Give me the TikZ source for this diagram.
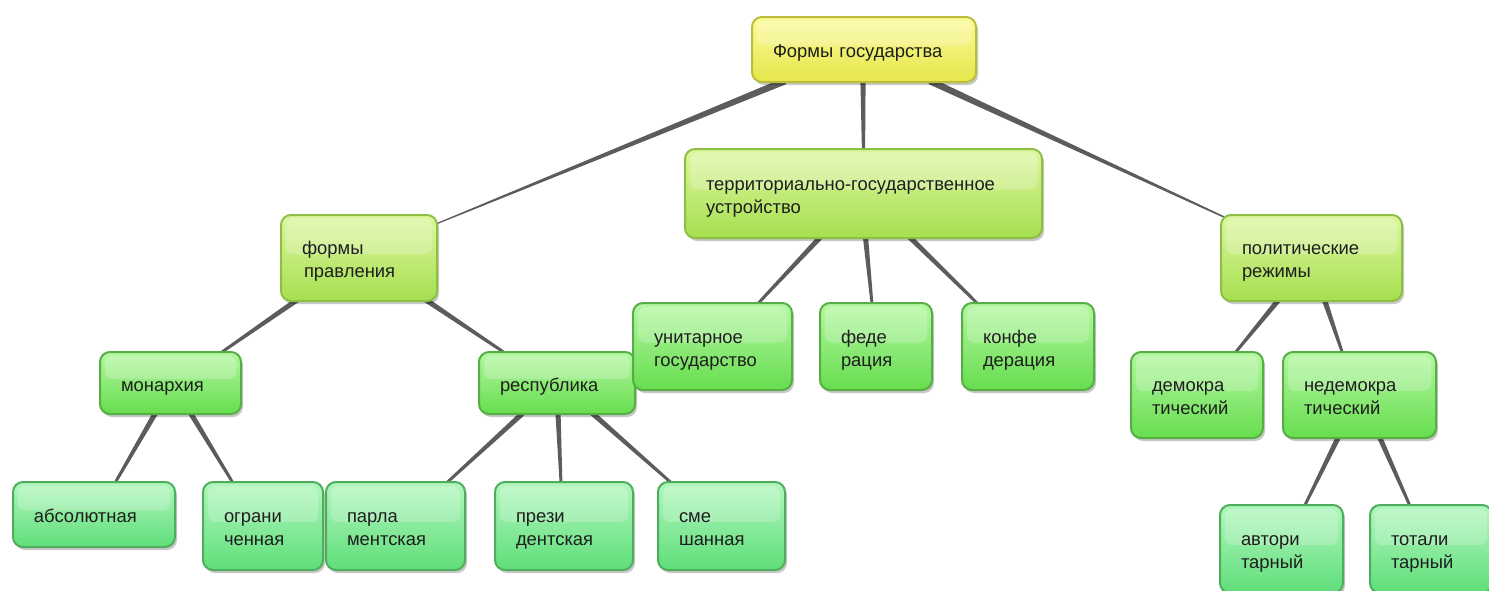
\documentclass[tikz,border=0pt]{standalone}
\usepackage{fontspec}
\setmainfont{Liberation Sans}
\usetikzlibrary{calc,shadows,backgrounds}
\definecolor{rootTop}{HTML}{FBFB9C}
\definecolor{rootBot}{HTML}{E6E64A}
\definecolor{rootLine}{HTML}{BDBD3C}
\definecolor{limeTop}{HTML}{DDF7A2}
\definecolor{limeBot}{HTML}{A6DF4E}
\definecolor{limeLine}{HTML}{8DBF45}
\definecolor{grTop}{HTML}{B4F8A2}
\definecolor{grBot}{HTML}{66DD4E}
\definecolor{grLine}{HTML}{56AE45}
\definecolor{mtTop}{HTML}{B2F7BE}
\definecolor{mtBot}{HTML}{5FDE7A}
\definecolor{mtLine}{HTML}{4FAE5E}
\definecolor{connCol}{HTML}{5C5C5C}
\definecolor{txtCol}{HTML}{1E1E1E}
\newcommand\bt{\rule{0pt}{22pt}}
\newcommand\et{\rule[-6pt]{0pt}{6pt}}
\newcommand\tconn[4]{%
  \coordinate (cs) at #1;
  \coordinate (ce) at #2;
  \fill[connCol] ($(cs)!#3!90:(ce)$) -- ($(ce)!#4!-90:(cs)$) -- ($(ce)!#4!90:(cs)$) -- ($(cs)!#3!-90:(ce)$) -- cycle;}
\begin{document}
\begin{tikzpicture}[x=1pt,y=-1pt,
  box/.style={rounded corners=10pt, line width=2pt, inner xsep=21pt, inner ysep=0pt,
    align=left, font=\fontsize{18.4}{23}\selectfont, text=txtCol,
    drop shadow={shadow xshift=2pt,shadow yshift=-3pt,opacity=0.22,fill=black},
    path picture={\fill[white,opacity=0.22,rounded corners=7pt]
      ([shift={(5pt,-4pt)}]path picture bounding box.north west) rectangle
      ([shift={(-5pt,4pt)}]path picture bounding box.east);}},
  rootbox/.style={box, draw=rootLine, top color=rootTop, bottom color=rootBot},
  limebox/.style={box, draw=limeLine, top color=limeTop, bottom color=limeBot},
  grbox/.style={box, draw=grLine, top color=grTop, bottom color=grBot},
  mtbox/.style={box, draw=mtLine, top color=mtTop, bottom color=mtBot}]
\useasboundingbox (0,0) rectangle (1489,590);
% level 0
\node[rootbox, text width=182pt, minimum height=65pt] (root) at (864,49.5) {\bt Формы государства\et};
% level 1
\node[limebox, text width=114pt, minimum height=86pt] (fp) at (359,258) {\bt формы\\\hspace{2pt}правления\et};
\node[limebox, text width=315pt, minimum height=89pt] (ter) at (863.5,193.5) {\bt территориально-государственное\\устройство\et};
\node[limebox, text width=139pt, minimum height=86pt] (pol) at (1311.5,258) {\bt политические\\режимы\et};
% level 2
\node[grbox, text width=99pt, minimum height=62pt] (mon) at (170.5,383) {\bt монархия\et};
\node[grbox, text width=114pt, minimum height=62pt] (rep) at (557,383) {\bt республика\et};
\node[grbox, text width=117pt, minimum height=87pt] (uni) at (712.5,346.5) {\bt унитарное\\государство\et};
\node[grbox, text width=70pt, minimum height=87pt] (fed) at (876,346.5) {\bt феде\\рация\et};
\node[grbox, text width=90pt, minimum height=87pt] (conf) at (1028,346.5) {\bt конфе\\дерация\et};
\node[grbox, text width=90pt, minimum height=86pt] (dem) at (1197,395) {\bt демокра\\тический\et};
\node[grbox, text width=111pt, minimum height=86pt] (nondem) at (1359.5,395) {\bt недемокра\\тический\et};
% level 3
\node[mtbox, text width=120pt, minimum height=65pt] (abs) at (94,514.5) {\bt абсолютная\et};
\node[mtbox, text width=78pt, minimum height=88pt] (ogr) at (263,526) {\bt ограни\\ченная\et};
\node[mtbox, text width=97pt, minimum height=88pt] (parl) at (395.5,526) {\bt парла\\ментская\et};
\node[mtbox, text width=96pt, minimum height=88pt] (prez) at (564,526) {\bt прези\\дентская\et};
\node[mtbox, text width=85pt, minimum height=88pt] (sme) at (721.5,526) {\bt сме\\шанная\et};
\node[mtbox, text width=81pt, minimum height=88pt] (avt) at (1281.5,549) {\bt автори\\тарный\et};
\node[mtbox, text width=80pt, minimum height=88pt] (tot) at (1431,549) {\bt тотали\\тарный\et};
% connectors
\begin{scope}[on background layer]
\tconn{([xshift=-79pt,yshift=2pt]root.south)}{([xshift=-2pt,yshift=-10pt]fp.north east)}{3.4pt}{0.6pt}
\tconn{([xshift=-1pt,yshift=2pt]root.south)}{([yshift=-2pt]ter.north)}{2.6pt}{1.6pt}
\tconn{([xshift=66pt,yshift=2pt]root.south)}{([xshift=4pt,yshift=-3pt]pol.north west)}{3.4pt}{0.8pt}
\tconn{([xshift=-62pt,yshift=2pt]fp.south)}{([xshift=50pt,yshift=-2pt]mon.north)}{2.6pt}{1.4pt}
\tconn{([xshift=67pt,yshift=2pt]fp.south)}{([xshift=-52pt,yshift=-2pt]rep.north)}{2.6pt}{1.4pt}
\tconn{([xshift=-15pt,yshift=2pt]mon.south)}{([xshift=21pt,yshift=-2pt]abs.north)}{2.6pt}{1.4pt}
\tconn{([xshift=20pt,yshift=2pt]mon.south)}{([xshift=-30pt,yshift=-2pt]ogr.north)}{2.6pt}{1.4pt}
\tconn{([xshift=-34pt,yshift=2pt]rep.south)}{([xshift=51pt,yshift=-2pt]parl.north)}{2.6pt}{1.4pt}
\tconn{([xshift=1pt,yshift=2pt]rep.south)}{([xshift=-3pt,yshift=-2pt]prez.north)}{2.6pt}{1.4pt}
\tconn{([xshift=35pt,yshift=2pt]rep.south)}{([xshift=-50pt,yshift=-2pt]sme.north)}{2.6pt}{1.4pt}
\tconn{([xshift=-43pt,yshift=2pt]ter.south)}{([xshift=45pt,yshift=-2pt]uni.north)}{2.6pt}{1.4pt}
\tconn{([xshift=2pt,yshift=2pt]ter.south)}{([xshift=-4pt,yshift=-2pt]fed.north)}{2.6pt}{1.4pt}
\tconn{([xshift=46pt,yshift=2pt]ter.south)}{([xshift=-50pt,yshift=-2pt]conf.north)}{2.6pt}{1.4pt}
\tconn{([xshift=-33pt,yshift=2pt]pol.south)}{([xshift=38pt,yshift=-2pt]dem.north)}{2.6pt}{1.4pt}
\tconn{([xshift=13pt,yshift=2pt]pol.south)}{([xshift=-17pt,yshift=-2pt]nondem.north)}{2.6pt}{1.4pt}
\tconn{([xshift=-21pt,yshift=2pt]nondem.south)}{([xshift=23pt,yshift=-2pt]avt.north)}{2.6pt}{1.4pt}
\tconn{([xshift=20pt,yshift=2pt]nondem.south)}{([xshift=-21pt,yshift=-2pt]tot.north)}{2.6pt}{1.4pt}
\end{scope}
\end{tikzpicture}
\end{document}
